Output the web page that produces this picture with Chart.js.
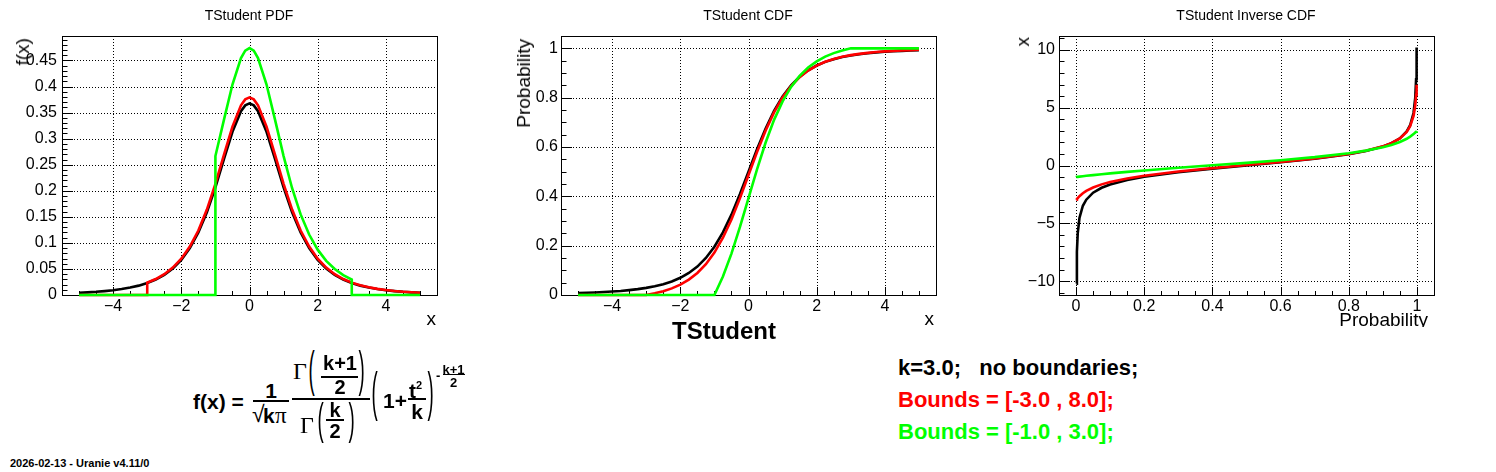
<!DOCTYPE html>
<html lang="en">

<head>
    <meta charset="UTF-8">
    <title>TStudent</title>
    <script src="https://cdn.jsdelivr.net/npm/chart.js"></script>
    <style>
        body { margin: 0; background: #fff; }
        #fig { position: relative; width: 1496px; height: 472px; overflow: hidden; background: #fff;
               font-family: 'Liberation Sans', Arial, sans-serif; color: #000; }
        canvas { position: absolute; top: 0; }
        .t { position: absolute; line-height: 1; white-space: pre; }
        .b { font-weight: bold; }
        .c { text-align: center; }
        .serif { font-family: 'Liberation Serif', 'Times New Roman', serif; }
        .bar { position: absolute; background: #000; height: 2px; }
        .vt { position: absolute; writing-mode: vertical-rl; transform: rotate(180deg); white-space: pre; }
        .par { position: absolute; font-size: 22px; line-height: 22px; transform-origin: 50% 12.9px; }
        .ttl { position: absolute; top: 8px; width: 498px; text-align: center; font-size: 14px; line-height: 14px; }
    </style>
</head>

<body>
<div id="fig">
    <canvas id="pdf" width="498" height="330" style="left:0px"></canvas>
    <canvas id="cdf" width="498" height="330" style="left:499px"></canvas>
    <canvas id="inv" width="498" height="330" style="left:997px"></canvas>

    <!-- titres des pads -->
    <div class="ttl" style="left:0px">TStudent PDF</div>
    <div class="ttl" style="left:499px">TStudent CDF</div>
    <div class="ttl" style="left:997px">TStudent Inverse CDF</div>

    <!-- titres des axes -->
    <div class="vt" style="left:13px; top:38px; font-size:19px; line-height:19px">f(x)</div>
    <div class="t" style="right:1060px; top:309px; font-size:19px">x</div>
    <div class="vt" style="left:514px; top:39px; font-size:19px; line-height:19px">Probability</div>
    <div class="t" style="right:562px; top:309px; font-size:19px">x</div>
    <div class="t b c" style="left:624px; width:200px; top:319px; font-size:24px">TStudent</div>
    <div class="vt" style="left:1013px; top:37px; font-size:19px; line-height:19px">x</div>
    <div style="position:absolute; left:1300px; top:300px; width:128px; height:27px; overflow:hidden">
        <div class="t" style="right:0px; top:10px; font-size:19px">Probability</div>
    </div>

    <!-- formule -->
    <div class="t b" style="left:193px; top:391px; font-size:21px">f(x) =</div>
    <div class="t b c" style="left:253px; width:36px; top:380px; font-size:21px">1</div>
    <div class="bar" style="left:253px; top:400px; width:36px"></div>
    <div class="t" style="left:252px; top:403px; font-size:23px">√</div>
    <div class="t b" style="left:263px; top:405px; font-size:21px">k</div>
    <div class="t serif" style="left:275px; top:404px; font-size:23px">π</div>

    <div class="t serif" style="left:293px; top:359px; font-size:24px">Γ</div>
    <div class="par" style="left:308px; top:361px; transform:scale(0.85,2.3)">(</div>
    <div class="t b c" style="left:318px; width:44px; top:353px; font-size:20px">k+1</div>
    <div class="bar" style="left:321px; top:376px; width:37px"></div>
    <div class="t b c" style="left:318px; width:44px; top:377px; font-size:20px">2</div>
    <div class="par" style="left:358px; top:361px; transform:scale(0.85,2.3)">)</div>
    <div class="bar" style="left:292px; top:398px; width:78px"></div>
    <div class="t serif" style="left:300px; top:413px; font-size:24px">Γ</div>
    <div class="par" style="left:317px; top:411px; transform:scale(0.85,2.0)">(</div>
    <div class="t b c" style="left:325px; width:20px; top:400px; font-size:20px">k</div>
    <div class="bar" style="left:326px; top:419px; width:18px"></div>
    <div class="t b c" style="left:325px; width:20px; top:421px; font-size:20px">2</div>
    <div class="par" style="left:348px; top:411px; transform:scale(0.85,2.0)">)</div>

    <div class="par" style="left:371px; top:385px; transform:scale(0.85,2.4)">(</div>
    <div class="t b" style="left:383px; top:390px; font-size:21px">1+</div>
    <div class="t b" style="left:409px; top:380px; font-size:21px">t</div>
    <div class="t b" style="left:416px; top:380px; font-size:11px">2</div>
    <div class="bar" style="left:408px; top:398px; width:18px"></div>
    <div class="t b c" style="left:407px; width:20px; top:401px; font-size:21px">k</div>
    <div class="par" style="left:427px; top:385px; transform:scale(0.85,2.4)">)</div>
    <div class="t b" style="left:436px; top:369px; font-size:13px">-</div>
    <div class="t b c" style="left:441px; width:25px; top:363px; font-size:13px">k+1</div>
    <div class="bar" style="left:443px; top:374px; width:22px; height:1px"></div>
    <div class="t b c" style="left:441px; width:25px; top:376px; font-size:13px">2</div>

    <!-- legende -->
    <div class="t b" style="left:898px; top:352px; font-size:22px; line-height:32px">k=3.0;   no boundaries;<br><span style="color:#ff0000">Bounds = [-3.0 , 8.0];</span><br><span style="color:#00ff00">Bounds = [-1.0 , 3.0];</span></div>

    <div class="t b" style="left:10px; top:458px; font-size:11px">2026-02-13 - Uranie v4.11/0</div>
</div>

<script>
    // ---- TStudent k=3 : densite ----
    var pdfBlackX = [-5, -4.75, -4.5, -4.25, -4, -3.75, -3.5, -3.25, -3, -2.75, -2.5, -2.25, -2, -1.75, -1.5, -1.25, -1, -0.75, -0.5, -0.25, -0.125,
        0, 0.125, 0.25, 0.5, 0.75, 1, 1.25, 1.5, 1.75, 2, 2.25, 2.5, 2.75, 3, 3.25, 3.5, 3.75, 4, 4.25, 4.5, 4.75, 5];
    var pdfBlack = [0.0042, 0.0051, 0.0061, 0.0075, 0.0092, 0.0114, 0.0142, 0.0180, 0.0230, 0.0297, 0.0387, 0.0509, 0.0675, 0.0900, 0.1200, 0.1589, 0.2068, 0.2607, 0.3132, 0.3528, 0.3638,
        0.3676, 0.3638, 0.3528, 0.3132, 0.2607, 0.2068, 0.1589, 0.1200, 0.0900, 0.0675, 0.0509, 0.0387, 0.0297, 0.0230, 0.0180, 0.0142, 0.0114, 0.0092, 0.0075, 0.0061, 0.0051, 0.0042];

    var pdfRedX = [-5, -3, -3, -2.75, -2.5, -2.25, -2, -1.75, -1.5, -1.25, -1, -0.75, -0.5, -0.25, -0.125, 0, 0.125,
        0.25, 0.5, 0.75, 1, 1.25, 1.5, 1.75, 2, 2.25, 2.5, 2.75, 3, 3.25, 3.5, 3.75, 4, 4.25, 4.5, 4.75, 5];
    var pdfRed = [0, 0, 0.0237, 0.0306, 0.0399, 0.0525, 0.0696, 0.0929, 0.1238, 0.1640, 0.2134, 0.2690, 0.3232, 0.3640, 0.3754, 0.3793, 0.3754,
        0.3640, 0.3232, 0.2690, 0.2134, 0.1640, 0.1238, 0.0929, 0.0696, 0.0525, 0.0399, 0.0306, 0.0237, 0.0186, 0.0147, 0.0117, 0.0095, 0.0077, 0.0063, 0.0052, 0.0044];

    var pdfGreenX = [-5, -1, -1, -0.75, -0.5, -0.25, -0.125, 0, 0.125, 0.25, 0.5, 0.75, 1, 1.25, 1.5, 1.75, 2, 2.25, 2.5, 2.75, 3, 3, 5];
    var pdfGreen = [0, 0, 0.2666, 0.3361, 0.4038, 0.4548, 0.4690, 0.4739, 0.4690, 0.4548, 0.4038, 0.3361, 0.2666, 0.2049, 0.1547, 0.1160, 0.0870, 0.0656, 0.0499, 0.0383, 0.0297, 0, 0];

    // ---- fonction de repartition ----
    var cdfX = [-5, -4.75, -4.5, -4.25, -4, -3.75, -3.5, -3.25, -3, -2.75, -2.5, -2.25, -2, -1.75, -1.5, -1.25, -1, -0.75, -0.5, -0.25,
        0, 0.25, 0.5, 0.75, 1, 1.25, 1.5, 1.75, 2, 2.25, 2.5, 2.75, 3, 3.25, 3.5, 3.75, 4, 4.25, 4.5, 4.75, 5];
    var cdfBlack = [0.0078, 0.0089, 0.0102, 0.0119, 0.0140, 0.0165, 0.0198, 0.0237, 0.0288, 0.0354, 0.0439, 0.0549, 0.0697, 0.0892, 0.1153, 0.1500, 0.1955, 0.2538, 0.3257, 0.4094,
        0.5, 0.5906, 0.6743, 0.7462, 0.8045, 0.8500, 0.8847, 0.9108, 0.9303, 0.9451, 0.9561, 0.9646, 0.9712, 0.9763, 0.9802, 0.9835, 0.9860, 0.9881, 0.9898, 0.9911, 0.9922];

    var cdfRedX = [-5, -3, -2.75, -2.5, -2.25, -2, -1.75, -1.5, -1.25, -1, -0.75, -0.5, -0.25,
        0, 0.25, 0.5, 0.75, 1, 1.25, 1.5, 1.75, 2, 2.25, 2.5, 2.75, 3, 3.25, 3.5, 3.75, 4, 4.25, 4.5, 4.75, 5];
    var cdfRed = [0, 0, 0.0068, 0.0156, 0.0269, 0.0422, 0.0623, 0.0892, 0.1250, 0.1720, 0.2321, 0.3063, 0.3927,
        0.4862, 0.5797, 0.6660, 0.7402, 0.8004, 0.8473, 0.8831, 0.9101, 0.9302, 0.9455, 0.9568, 0.9656, 0.9724, 0.9776, 0.9817, 0.9851, 0.9877, 0.9898, 0.9916, 0.9929, 0.9940];

    var cdfGreenX = [-5, -1, -0.75, -0.5, -0.25, 0, 0.25, 0.5, 0.75, 1, 1.25, 1.5, 1.75, 2, 2.25, 2.5, 2.75, 3, 5];
    var cdfGreen = [0, 0, 0.0752, 0.1679, 0.2758, 0.3926, 0.5094, 0.6173, 0.7100, 0.7851, 0.8438, 0.8885, 0.9222, 0.9473, 0.9664, 0.9806, 0.9915, 1, 1];

    // ---- inverse ----
    var invP = [0.001, 0.0025, 0.005, 0.01, 0.02, 0.03, 0.05, 0.075, 0.1, 0.15, 0.2, 0.3, 0.4, 0.5, 0.6, 0.7, 0.8, 0.85, 0.9, 0.925, 0.95, 0.97, 0.98, 0.99, 0.995, 0.9975, 0.999];
    var invBlack = [-10.215, -7.453, -5.841, -4.541, -3.482, -2.955, -2.353, -1.925, -1.638, -1.250, -0.978, -0.584, -0.277, 0,
        0.277, 0.584, 0.978, 1.250, 1.638, 1.925, 2.353, 2.955, 3.482, 4.541, 5.841, 7.453, 10.215];
    var invRed = [-2.958, -2.903, -2.82, -2.658, -2.402, -2.199, -1.903, -1.632, -1.425, -1.117, -0.884, -0.521, -0.230, 0.037,
        0.307, 0.615, 0.998, 1.269, 1.657, 1.936, 2.350, 2.913, 3.40, 4.29, 5.18, 6.12, 6.98];
    var invGreen = [-0.996, -0.991, -0.981, -0.963, -0.927, -0.890, -0.834, -0.751, -0.683, -0.548, -0.426, -0.198, 0.016, 0.230,
        0.460, 0.723, 1.063, 1.285, 1.585, 1.778, 2.035, 2.313, 2.499, 2.715, 2.852, 2.925, 2.969];

    // ---- graduations ----
    var pdfXTicks = [-4, -2, 0, 2, 4];
    var pdfYTicks = [0, 0.05, 0.1, 0.15, 0.2, 0.25, 0.3, 0.35, 0.4, 0.45];
    var cdfYTicks = [0, 0.2, 0.4, 0.6, 0.8, 1];
    var invXTicks = [0, 0.2, 0.4, 0.6, 0.8, 1];
    var invYTicks = [-10, -5, 0, 5, 10];

    Chart.defaults.font.family = "'Liberation Sans', Arial, sans-serif";
    Chart.defaults.color = '#000';

    function pts(xs, ys) {
        return xs.map(function (x, i) { return { x: x, y: ys[i] }; });
    }

    function fmt(v) {
        return String(v).replace('-', '\u2212');
    }

    // cadre, grille pointillee et petites graduations vers l'interieur (style ROOT)
    var rootFrame = {
        id: 'rootFrame',
        beforeDatasetsDraw(chart, args, opts) {
            var ctx = chart.ctx, a = chart.chartArea, x = chart.scales.x, y = chart.scales.y;
            ctx.save();
            ctx.strokeStyle = '#000';
            ctx.lineWidth = 1;
            ctx.setLineDash([1, 2]);
            ctx.beginPath();
            x.ticks.forEach(function (t) {
                var px = Math.round(x.getPixelForValue(t.value)) + 0.5;
                ctx.moveTo(px, a.top); ctx.lineTo(px, a.bottom);
            });
            y.ticks.forEach(function (t) {
                var py = Math.round(y.getPixelForValue(t.value)) + 0.5;
                ctx.moveTo(a.left, py); ctx.lineTo(a.right, py);
            });
            ctx.stroke();
            ctx.setLineDash([]);

            ctx.beginPath();
            var i, v, px, py, big;
            for (i = Math.ceil(x.min / opts.xMinor - 1e-6); i * opts.xMinor <= x.max + 1e-9; i++) {
                v = i * opts.xMinor;
                big = x.ticks.some(function (t) { return Math.abs(t.value - v) < 1e-9; });
                px = Math.round(x.getPixelForValue(v)) + 0.5;
                ctx.moveTo(px, a.bottom); ctx.lineTo(px, a.bottom - (big ? 8 : 4));
            }
            for (i = Math.ceil(y.min / opts.yMinor - 1e-6); i * opts.yMinor <= y.max + 1e-9; i++) {
                v = i * opts.yMinor;
                big = y.ticks.some(function (t) { return Math.abs(t.value - v) < 1e-9; });
                py = Math.round(y.getPixelForValue(v)) + 0.5;
                ctx.moveTo(a.left, py); ctx.lineTo(a.left + (big ? 11 : 5.5), py);
            }
            ctx.stroke();
            ctx.strokeRect(Math.round(a.left) + 0.5, Math.round(a.top) + 0.5, Math.round(a.right - a.left), Math.round(a.bottom - a.top));
            ctx.restore();
        }
    };

    function serie(xs, ys, cor, ordem) {
        return {
            data: pts(xs, ys),
            borderColor: cor,
            borderWidth: 2.6,
            pointRadius: 0,
            showLine: true,
            tension: 0,
            clip: 4,
            order: ordem
        };
    }

    function eixo(min, max, marcas, lado, pad) {
        var e = {
            type: 'linear',
            min: min,
            max: max,
            grid: { display: false, drawTicks: false },
            border: { display: false },
            ticks: {
                font: { size: 16 },
                color: '#000',
                padding: pad,
                autoSkip: false,
                maxRotation: 0,
                callback: fmt
            },
            afterBuildTicks: function (s) {
                s.ticks = marcas.map(function (v) { return { value: v }; });
            }
        };
        if (lado == 'x') {
            e.afterFit = function (s) { s.height = 35; };
        } else {
            e.afterFit = function (s) { s.width = 62; };
        }
        return e;
    }

    function grafico(id, datasets, xEixo, yEixo, minor) {
        return new Chart(document.getElementById(id), {
            type: 'scatter',
            data: { datasets: datasets },
            options: {
                responsive: false,
                animation: false,
                layout: { padding: { top: 36, right: 61, left: 0, bottom: 0 } },
                scales: { x: xEixo, y: yEixo },
                plugins: {
                    legend: { display: false },
                    tooltip: { enabled: false },
                    rootFrame: minor
                }
            },
            plugins: [rootFrame]
        });
    }

    grafico('pdf', [
        serie(pdfBlackX, pdfBlack, '#000000', 3),
        serie(pdfRedX, pdfRed, '#ff0000', 2),
        serie(pdfGreenX, pdfGreen, '#00ff00', 1)
    ], eixo(-5.5, 5.5, pdfXTicks, 'x', 2), eixo(0, 0.497, pdfYTicks, 'y', 5), { xMinor: 0.5, yMinor: 0.01 });

    grafico('cdf', [
        serie(cdfX, cdfBlack, '#000000', 3),
        serie(cdfRedX, cdfRed, '#ff0000', 2),
        serie(cdfGreenX, cdfGreen, '#00ff00', 1)
    ], eixo(-5.5, 5.5, pdfXTicks, 'x', 2), eixo(0, 1.05, cdfYTicks, 'y', 3), { xMinor: 0.5, yMinor: 0.05 });

    grafico('inv', [
        serie(invP, invBlack, '#000000', 3),
        serie(invP, invRed, '#ff0000', 2),
        serie(invP, invGreen, '#00ff00', 1)
    ], eixo(-0.05, 1.05, invXTicks, 'x', 2), eixo(-11.2, 11.2, invYTicks, 'y', 4), { xMinor: 0.05, yMinor: 1 });
</script>
</body>

</html>
